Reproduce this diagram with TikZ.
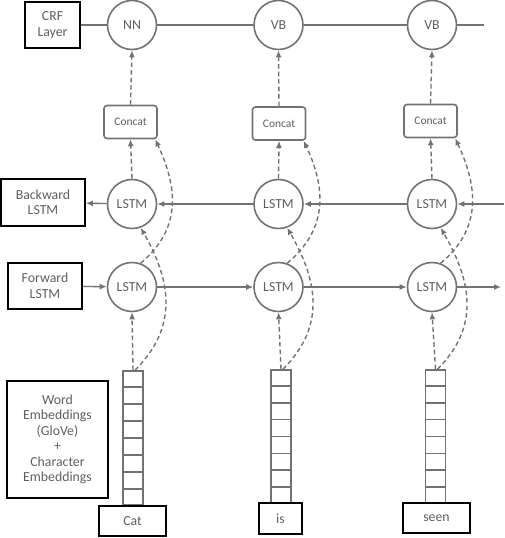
\documentclass[tikz,border=0pt]{standalone}
\usepackage{fontspec}
\setmainfont{Carlito}
\usetikzlibrary{positioning,arrows.meta,calc}
\definecolor{linegray}{RGB}{118,113,113}
\definecolor{textgray}{RGB}{95,95,95}

\begin{document}
\begin{tikzpicture}[x=1pt,y=1pt,every node/.style={font=\fontsize{13.8}{15.5}\selectfont,text=textgray,align=center},
    cell/.style={circle,draw=linegray,line width=1.6pt,minimum size=49pt,inner sep=0pt},
    catbox/.style={draw=linegray,line width=1.6pt,rounded corners=3pt,minimum width=53pt,minimum height=33pt,inner sep=0pt,font=\fontsize{11.5}{13}\selectfont},
    labelbox/.style={draw=black,line width=1.6pt,inner sep=0pt},
    vecbox/.style={draw=linegray,line width=1.6pt,minimum width=20pt,minimum height=134pt,inner sep=0pt},
    flow/.style={linegray,line width=1.4pt,-{Latex[length=7pt,width=6pt]}},
    dflow/.style={flow,dash pattern=on 4.5pt off 3pt}]
        \useasboundingbox (0,0) rectangle (504,538);
        % Tags
        \node[cell] (n1) at (132,513) {NN};
        \node[cell] (n2) at (278.5,513) {VB};
        \node[cell] (n3) at (432,513) {VB};
        \node[labelbox,minimum width=55pt,minimum height=46pt] (crf) at (52.5,513) {CRF\\Layer};
        \coordinate (tagend) at (484,513);
        \draw[linegray,line width=1.4pt] (crf) -- (n1) -- (n2) -- (n3) -- (tagend);
        % Concat
        \node[catbox] (c1) at (130.5,416) {Concat};
        \node[catbox] (c2) at (279,414.5) {Concat};
        \node[catbox] (c3) at (430.5,417) {Concat};
        % Backward LSTM
        \node[cell] (b1) at (132,334) {LSTM};
        \node[cell] (b2) at (278.5,334) {LSTM};
        \node[cell] (b3) at (432,334) {LSTM};
        \node[labelbox,minimum width=84pt,minimum height=47pt] (bwd) at (43,335.5) {Backward\\LSTM};
        \coordinate (bstart) at (504,334);
        \draw[flow] (bstart) -- (b3);
        \draw[flow] (b3) -- (b2);
        \draw[flow] (b2) -- (b1);
        \draw[flow] (b1) -- (bwd);
        % Forward LSTM
        \node[cell] (f1) at (132,251) {LSTM};
        \node[cell] (f2) at (278.5,251) {LSTM};
        \node[cell] (f3) at (432,251) {LSTM};
        \node[labelbox,minimum width=74pt,minimum height=46pt] (fwd) at (45,252) {Forward\\LSTM};
        \coordinate (fend) at (501,251);
        \draw[flow] (fwd) -- (f1);
        \draw[flow] (f1) -- (f2);
        \draw[flow] (f2) -- (f3);
        \draw[flow] (f3) -- (fend);
        % Embeddings
        \node[vecbox] (e1) at (133,100) {};
        \node[vecbox,minimum height=133pt] (e2) at (281,101.5) {};
        \node[vecbox,minimum height=133pt] (e3) at (435.5,101.5) {};
        \foreach \e in {e1,e2,e3}
            \foreach \i in {1,...,7}
                \draw[linegray,line width=1.6pt] ($(\e.south west)!\i/8!(\e.north west)$) -- ($(\e.south east)!\i/8!(\e.north east)$);
        \node[labelbox,minimum width=101pt,minimum height=117pt] (emb) at (57.5,98.5) {Word\\Embeddings\\(GloVe)\\+\\Character\\Embeddings};
        % Words
        \node[labelbox,minimum width=67pt,minimum height=30pt] (w1) at (132.5,17) {Cat};
        \node[labelbox,minimum width=43pt,minimum height=31pt] (w2) at (280.5,19.5) {is};
        \node[labelbox,minimum width=67pt,minimum height=30pt] (w3) at (436.5,20) {seen};
        % Dashed links
        \foreach \k in {1,2,3} {
            \draw[dflow] (e\k.north) -- (f\k.south);
            \draw[dflow] (b\k.north) -- (c\k.south);
            \draw[dflow] (c\k.north) -- (n\k.south);
            \draw[dflow] ($(e\k.north)+(2,0)$) to[out=45,in=-60,looseness=1.1] (b\k.-70);
            \draw[dflow] (f\k.70) to[out=40,in=-65,looseness=1.1] (c\k.-35);
        }
    \end{tikzpicture}
\end{document}
